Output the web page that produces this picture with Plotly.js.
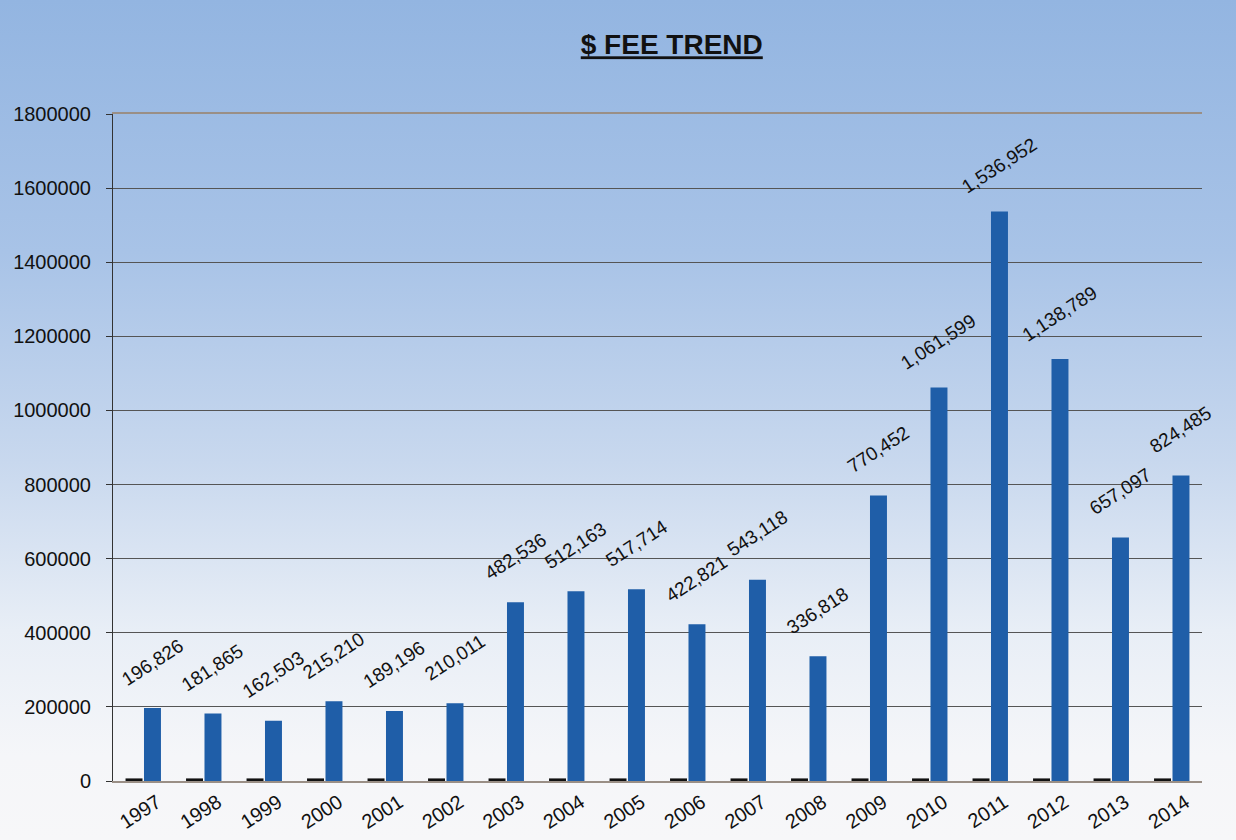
<!DOCTYPE html>
<html>
<head>
<meta charset="utf-8">
<script src="https://cdn.plot.ly/plotly-3.0.1.min.js"></script>
<style>
html,body{margin:0;padding:0;}
#chart{width:1236px;height:840px;background:linear-gradient(to bottom,#93b5e1 0%,#a8c3e7 30%,#c8d8ee 55%,#e8eef6 75%,#f5f6f9 90%,#f7f7f9 100%);}
</style>
</head>
<body>
<div id="chart"></div>
<script>
const years = ['1997','1998','1999','2000','2001','2002','2003','2004','2005','2006','2007','2008','2009','2010','2011','2012','2013','2014'];
const fees = [196826,181865,162503,215210,189196,210011,482536,512163,517714,422821,543118,336818,770452,1061599,1536952,1138789,657097,824485];
const baseline = [7000,7000,7000,7000,7000,7000,7000,7000,7000,7000,7000,7000,7000,7000,7000,7000,7000,7000];
const feeLabels = ['196,826','181,865','162,503','215,210','189,196','210,011','482,536','512,163','517,714','422,821','543,118','336,818','770,452','1,061,599','1,536,952','1,138,789','657,097','824,485'];
const yTicks = [0,200000,400000,600000,800000,1000000,1200000,1400000,1600000,1800000];

const FONT = 'Arial, Liberation Sans, sans-serif';
const traces = [
  {type:'bar', x:years, y:baseline, marker:{color:'#111111'}, hoverinfo:'skip', showlegend:false},
  {type:'bar', x:years, y:fees, marker:{color:'#1f5ea8'}, showlegend:false}
];
const annotations = years.map((yr, i) => ({
  x: i, y: fees[i], text: feeLabels[i], showarrow:false, textangle:-33,
  xanchor:'center', yanchor:'middle', xshift:9, yshift:46,
  font:{family:FONT, size:19, color:'#111'}
}));
const layout = {
  width:1236, height:840,
  paper_bgcolor:'rgba(0,0,0,0)', plot_bgcolor:'rgba(0,0,0,0)',
  margin:{l:113, r:34, t:114, b:59},
  barmode:'group', bargap:0.39, bargroupgap:0.08,
  title:{text:'<b>$ FEE TREND</b>', x:0.5435, xanchor:'center', y:0.947, yanchor:'middle',
    font:{family:FONT, size:28, color:'#111', lineposition:'under'}},
  annotations: annotations,
  xaxis:{type:'category', range:[-0.5, years.length-0.5], tickangle:-33, showgrid:false, showline:true, linecolor:'#9a8f86', linewidth:2, mirror:true,
    ticks:'', ticklabelshift:14, tickfont:{family:FONT, size:20, color:'#111'}},
  yaxis:{range:[0,1800000], tickvals:yTicks, ticktext:yTicks.map(String), showgrid:true, gridcolor:'#555', gridwidth:1,
    showline:true, linecolor:'#333', linewidth:1, ticks:'outside', ticklen:6, tickcolor:'#333', zeroline:false,
    ticklabelstandoff:11, tickfont:{family:FONT, size:20, color:'#111'}}
};
Plotly.newPlot('chart', traces, layout, {displayModeBar:false, staticPlot:true});
</script>
</body>
</html>
